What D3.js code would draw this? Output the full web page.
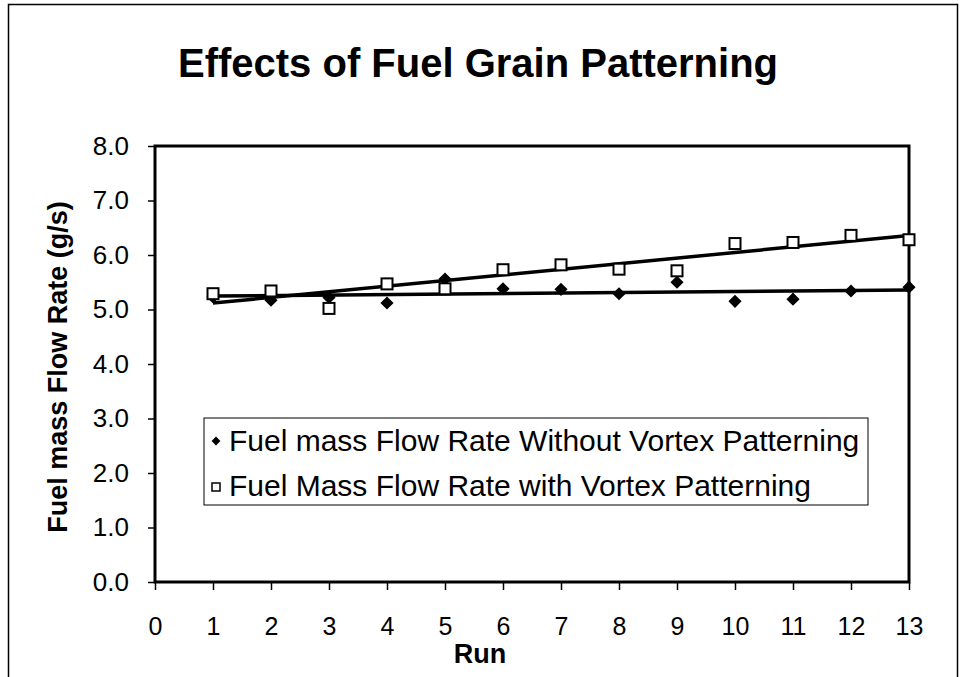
<!DOCTYPE html>
<html>
<head>
<meta charset="utf-8">
<script src="https://cdn.jsdelivr.net/npm/d3@7"></script>
<style>
  body { margin: 0; background: #fff; }
  text { font-family: "Liberation Sans", Arial, sans-serif; fill: #000; }
</style>
</head>
<body>
<svg id="chart"></svg>
<script>
// run numbers and measured flow rates (g/s)
var runs = [1, 2, 3, 4, 5, 6, 7, 8, 9, 10, 11, 12, 13];
var withoutVortex = [5.23, 5.17, 5.22, 5.12, 5.56, 5.38, 5.37, 5.29, 5.50, 5.15, 5.19, 5.34, 5.41];
var withVortex = [5.29, 5.34, 5.02, 5.47, 5.38, 5.73, 5.82, 5.74, 5.71, 6.21, 6.23, 6.36, 6.28];
var yTicks = [0, 1, 2, 3, 4, 5, 6, 7, 8];
var xTicks = [0, 1, 2, 3, 4, 5, 6, 7, 8, 9, 10, 11, 12, 13];
var legendLabels = ["Fuel mass Flow Rate Without Vortex Patterning", "Fuel Mass Flow Rate with Vortex Patterning"];

var width = 960, height = 677;
var svg = d3.select("#chart").attr("width", width).attr("height", height);

// outer frame
svg.append("rect")
  .attr("x", 8.5).attr("y", 4.5)
  .attr("width", 949).attr("height", 700)
  .attr("fill", "none").attr("stroke", "#000").attr("stroke-width", 1.5);

var plotL = 155, plotR = 909, plotT = 146, plotB = 582;

var x = d3.scaleLinear().domain([0, 13]).range([plotL, plotR]);
var y = d3.scaleLinear().domain([0, 8]).range([plotB, plotT]);

// title
svg.append("text")
  .attr("x", 478).attr("y", 77)
  .attr("text-anchor", "middle")
  .style("font-size", "40px").style("font-weight", "bold")
  .text("Effects of Fuel Grain Patterning");

// y axis
var yAxis = d3.axisLeft(y).tickValues(yTicks).tickFormat(d3.format(".1f")).tickSize(7).tickPadding(19);
var gy = svg.append("g").attr("transform", "translate(" + plotL + ",0)").call(yAxis);
gy.select(".domain").remove();
gy.selectAll("line").attr("stroke-width", 1.5);
gy.selectAll("text").style("font-size", "26px").attr("font-family", null);

// x axis
var xAxis = d3.axisBottom(x).tickValues(xTicks).tickSize(8).tickPadding(27);
var gx = svg.append("g").attr("transform", "translate(0," + plotB + ")").call(xAxis);
gx.select(".domain").remove();
gx.selectAll("line").attr("stroke-width", 1.5);
gx.selectAll("text").style("font-size", "25px").attr("font-family", null);

// plot frame
svg.append("rect")
  .attr("x", plotL).attr("y", plotT)
  .attr("width", plotR - plotL).attr("height", plotB - plotT)
  .attr("fill", "none").attr("stroke", "#000").attr("stroke-width", 3);

// axis titles
svg.append("text")
  .attr("x", 480).attr("y", 663)
  .attr("text-anchor", "middle")
  .style("font-size", "27px").style("font-weight", "bold")
  .text("Run");
svg.append("text")
  .attr("transform", "translate(67,367) rotate(-90)")
  .attr("text-anchor", "middle")
  .style("font-size", "27px").style("font-weight", "bold")
  .text("Fuel mass Flow Rate (g/s)");

// linear trend lines
function fit(xs, ys) {
  var mx = d3.mean(xs), my = d3.mean(ys);
  var sxy = d3.sum(xs, function(v, i) { return (v - mx) * (ys[i] - my); });
  var sxx = d3.sum(xs, function(v) { return (v - mx) * (v - mx); });
  var b = sxy / sxx;
  return function(v) { return my + b * (v - mx); };
}
var line = d3.line().x(function(d) { return x(d[0]); }).y(function(d) { return y(d[1]); });
[withoutVortex, withVortex].forEach(function(series) {
  var f = fit(runs, series);
  svg.append("path")
    .attr("d", line([[1, f(1)], [13, f(13)]]))
    .attr("fill", "none").attr("stroke", "#000").attr("stroke-width", 3.5);
});

var diamond = d3.symbol().type(d3.symbolDiamond2).size(110);

// without vortex: filled diamonds
svg.append("g").selectAll("path")
  .data(runs)
  .enter().append("path")
  .attr("d", diamond)
  .attr("transform", function(d, i) { return "translate(" + x(d) + "," + y(withoutVortex[i]) + ")"; })
  .attr("fill", "#000");

// with vortex: open squares
svg.append("g").selectAll("rect")
  .data(runs)
  .enter().append("rect")
  .attr("x", function(d) { return x(d) - 5.5; })
  .attr("y", function(d, i) { return y(withVortex[i]) - 5.5; })
  .attr("width", 11).attr("height", 11)
  .attr("fill", "#fff").attr("stroke", "#000").attr("stroke-width", 2);

// legend
var lg = svg.append("g");
lg.append("rect")
  .attr("x", 204).attr("y", 418)
  .attr("width", 664).attr("height", 87)
  .attr("fill", "#fff").attr("stroke", "#000").attr("stroke-width", 1);
lg.append("path")
  .attr("d", d3.symbol().type(d3.symbolDiamond2).size(50))
  .attr("transform", "translate(216,441)")
  .attr("fill", "#000");
lg.append("rect")
  .attr("x", 212).attr("y", 483).attr("width", 8).attr("height", 8)
  .attr("fill", "#fff").attr("stroke", "#000").attr("stroke-width", 1.5);
lg.selectAll("text.leg")
  .data(legendLabels)
  .enter().append("text")
  .attr("class", "leg")
  .attr("x", 229)
  .attr("y", function(d, i) { return 451 + i * 45; })
  .style("font-size", "30px")
  .text(function(d) { return d; });
</script>
</body>
</html>
